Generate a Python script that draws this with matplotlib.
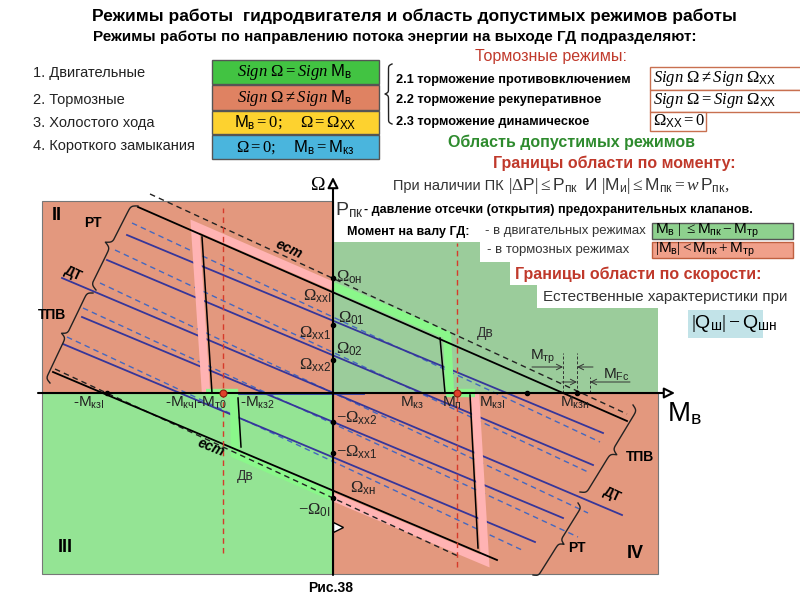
import numpy as np
import matplotlib
matplotlib.use("Agg")
import matplotlib.pyplot as plt
from matplotlib.patches import Rectangle, Polygon

plt.rcParams['font.family'] = ['Liberation Sans', 'DejaVu Sans']
plt.rcParams['mathtext.fontset'] = 'custom'
plt.rcParams['mathtext.rm'] = 'Liberation Serif'
plt.rcParams['mathtext.it'] = 'Liberation Serif:italic'
plt.rcParams['mathtext.sf'] = 'Liberation Sans'
plt.rcParams['mathtext.bf'] = 'Liberation Sans:bold'

# ---- chart data, torque M (x) and speed Omega (y), origin at the axes crossing
m_lim = (-291, 325)
w_lim = (-181, 192)
q1_m = [0, 147, 147, 177, 177, 204, 204, 325, 325, 0]
q1_w = [151, 151, 131, 131, 108, 108, 85, 85, 0, 0]

# natural ("ест") characteristics: (m0, w0, m1, w1)
nat_dashed = [(-183, 199, 294, -21), (-278, 24, 127, -164)]
nat_solid = [(-195, 186, 294, -28), (-280, 21, 164, -167)]
# regulated characteristics (РТ, ДТ, ТПВ families)
blue_dashed = [(-201, 170, 267, -49), (-218, 143, 255, -79), (-233, 110, 255, -120),
               (-250, 85, 245, -144), (-266, 56, 189, -157)]
blue_solid = [(-206, 158, 270, -40), (-226, 133, 260, -72), (-271, 115, 289, -122),
              (-251, 76, 230, -125), (-270, 49, 202, -149)]
# torque limits (vertical parts of the boundary)
vert_limits = [(-131, 156, -121, 0), (-95, -5, -92, -54), (107, 55, 112, 0), (137, -2, 145, -155)]

# boundary of the allowed region
brake_1_m, brake_1_w = [0, -138, -127], [107, 167, 0]
motor_3_m, motor_3_w = [-127, -99, -98, 0], [0, 0, -61, -104]
brake_4_m, brake_4_w = [0, 152, 142], [-104, -168, 0]
motor_1_m, motor_1_w = [142, 117, 114, 0], [0, 0, 58, 107]

red_m = [-110, 124]
red_top = [185, 150]
red_bot = [-160, -174]
m_dots = [-226, 194, 244]
w_dots = [115, 68, 33, -29, -60, -105]
fric_m = [230, 244, 257]
fric_top = [40, 40, 16]

SALMON = '#E3987E'
GREEN1 = '#9BCC9B'
GREEN3 = '#94E494'
PINK = '#FFB3B3'
LGREEN = '#8AF78A'
NAVY = '#36369A'
BLUE = '#4468C0'
RED = '#C0392B'

fig = plt.figure(figsize=(8, 6), dpi=100)
cx = fig.add_axes([30 / 800, 10 / 600, 660 / 800, 420 / 600], zorder=1)
cx.set_xlim(-303, 357)
cx.set_ylim(-197, 223)
cx.axis('off')

# quadrants
cx.add_patch(Rectangle((m_lim[0], 0), -m_lim[0], w_lim[1], fc=SALMON, ec='#777777', lw=0.8, zorder=0))
cx.add_patch(Rectangle((0, w_lim[0]), m_lim[1], -w_lim[0], fc=SALMON, ec='#777777', lw=0.8, zorder=0))
cx.add_patch(Rectangle((m_lim[0], w_lim[0]), -m_lim[0], -w_lim[0], fc=GREEN3, ec='#777777', lw=0.8, zorder=0))
cx.add_patch(Polygon(np.column_stack([q1_m, q1_w]), fc=GREEN1, ec='none', zorder=0))

for m0, w0, m1, w1 in blue_dashed:
    cx.plot([m0, m1], [w0, w1], color=BLUE, lw=1.0, ls=(0, (4, 3)), zorder=2)
for m0, w0, m1, w1 in blue_solid:
    cx.plot([m0, m1], [w0, w1], color=NAVY, lw=1.3, zorder=2)
cx.plot([-126, 30], [0, 0], color='#2F3FA8', lw=2.0, zorder=2)

# allowed region boundary
for mm, ww, c in [(brake_1_m, brake_1_w, PINK), (motor_3_m, motor_3_w, LGREEN),
                  (brake_4_m, brake_4_w, PINK), (motor_1_m, motor_1_w, LGREEN)]:
    cx.plot(mm, ww, color=c, lw=6, solid_joinstyle='miter', solid_capstyle='butt', zorder=3)

for m0, w0, m1, w1 in nat_dashed:
    cx.plot([m0, m1], [w0, w1], color='#222222', lw=1.0, ls=(0, (4, 3)), zorder=4)
for m0, w0, m1, w1 in nat_solid:
    cx.plot([m0, m1], [w0, w1], color='black', lw=1.3, zorder=4)
for m0, w0, m1, w1 in vert_limits:
    cx.plot([m0, m1], [w0, w1], color='black', lw=1.1, zorder=4)

for m, t, b in zip(red_m, red_top, red_bot):
    cx.plot([m, m], [b, t], color='#D63A2A', lw=1.0, ls=(0, (4, 3)), zorder=4)
    cx.plot(m, 0, 'o', ms=5, mfc='#E0402A', mec='#8A2010', mew=0.8, zorder=7)

for m, t in zip(fric_m, fric_top):
    cx.plot([m, m], [0, t], color='#333333', lw=0.7, ls=(0, (3, 2)), zorder=4)
arw = dict(arrowstyle='->', color='#333333', lw=0.7, shrinkA=0, shrinkB=0)
cx.annotate('', xy=(fric_m[0], 26), xytext=(fric_m[0] - 31, 26), arrowprops=arw, zorder=5)
cx.annotate('', xy=(fric_m[1], 26), xytext=(fric_m[1] + 16, 26), arrowprops=arw, zorder=5)
cx.annotate('', xy=(fric_m[1], 11), xytext=(fric_m[0] - 1, 11), arrowprops=arw, zorder=5)
cx.annotate('', xy=(fric_m[2], 11), xytext=(fric_m[2] + 40, 11), arrowprops=arw, zorder=5)

# axes
head = dict(arrowstyle='-|>', lw=1.5, ec='black', fc='white', mutation_scale=16, shrinkA=0, shrinkB=0)
cx.annotate('', xy=(0, 216), xytext=(0, -182), arrowprops=head, zorder=6)
cx.annotate('', xy=(342, 0), xytext=(-295, 0), arrowprops=head, zorder=6)
cx.plot(5, -134, marker='>', ms=7, mfc='white', mec='black', zorder=6)
cx.plot(m_dots, np.zeros(len(m_dots)), 'o', ms=3, color='black', zorder=7)
cx.plot(np.zeros(len(w_dots)), w_dots, 'o', ms=3, color='black', zorder=7)

# ---- overlay in pixel coordinates for text and braces
ax = fig.add_axes([0, 0, 1, 1], zorder=2)
ax.set_xlim(0, 800)
ax.set_ylim(600, 0)
ax.axis('off')
ax.patch.set_alpha(0)


def brace(p0, p1, depth, lw=1.0):
    p0 = np.asarray(p0, float)
    p1 = np.asarray(p1, float)
    d = p1 - p0
    L = np.hypot(d[0], d[1])
    u = d / L
    nrm = np.array([u[1], -u[0]])
    s = np.linspace(0, L / 2, 80)
    beta = 9.0 / abs(depth)
    h = 1 / (1 + np.exp(-beta * s)) + 1 / (1 + np.exp(-beta * (s - L / 2))) - 0.5
    along = np.concatenate([s, L - s[::-1]])
    off = np.concatenate([h, h[::-1]]) * depth
    pts = p0 + np.outer(along, u) + np.outer(off, nrm)
    ax.plot(pts[:, 0], pts[:, 1], color='#222222', lw=lw)


def box(x0, y0, x1, y1, fc, ec='#555555', lw=1.0):
    ax.add_patch(Rectangle((x0, y0), x1 - x0, y1 - y0, fc=fc, ec=ec, lw=lw))


# header
ax.text(414, 16, 'Режимы работы  гидродвигателя и область допустимых режимов работы',
        ha='center', va='center', fontsize=12.5, fontweight='bold')
ax.text(395, 37, 'Режимы работы по направлению потока энергии на выходе ГД подразделяют:',
        ha='center', va='center', fontsize=11, fontweight='bold')
ax.text(551, 56, 'Тормозные режимы:', ha='center', va='center', fontsize=11.5, color=RED)

for y, s in zip([73, 100, 123, 146],
                ['1. Двигательные', '2. Тормозные', '3. Холостого хода', '4. Короткого замыкания']):
    ax.text(33, y, s, va='center', fontsize=10.5, color='#222222')

box(212, 60, 379, 84, '#42C342')
box(212, 85, 379, 110, '#DF8262')
box(212, 111, 379, 134, '#FDD22F')
box(212, 135, 379, 159, '#4AB5DD')
ax.text(295, 72, r'$\mathit{Sign}\ \Omega = \mathit{Sign}\ \mathsf{M}_{\mathsf{в}}$', ha='center', va='center', fontsize=12)
ax.text(295, 98, r'$\mathit{Sign}\ \Omega \neq \mathit{Sign}\ \mathsf{M}_{\mathsf{в}}$', ha='center', va='center', fontsize=12)
ax.text(295, 122, r'$\mathsf{M}_{\mathsf{в}} = 0;\quad\ \Omega = \Omega_{\mathsf{XX}}$', ha='center', va='center', fontsize=12)
ax.text(295, 147, r'$\Omega = 0;\quad\ \mathsf{M}_{\mathsf{в}} = \mathsf{M}_{\mathsf{кз}}$', ha='center', va='center', fontsize=12)

brace((392, 64), (392, 124), -7)
for y, s in zip([80, 100, 122], ['2.1 торможение противовключением', '2.2 торможение рекуперативное',
                                  '2.3 торможение динамическое']):
    ax.text(396, y, s, va='center', fontsize=9.2, fontweight='bold')
box(650, 67, 802, 90, 'white', ec='#C87050')
box(650, 90, 802, 112, 'white', ec='#C87050')
box(650, 112, 706, 131, 'white', ec='#C87050')
ax.text(653, 79, r'$\mathit{Sign}\ \Omega \neq \mathit{Sign}\ \Omega_{\mathsf{XX}}$', va='center', fontsize=12)
ax.text(653, 101, r'$\mathit{Sign}\ \Omega = \mathit{Sign}\ \Omega_{\mathsf{XX}}$', va='center', fontsize=12)
ax.text(653, 121, r'$\Omega_{\mathsf{XX}} = 0$', va='center', fontsize=12)

ax.text(572, 142, 'Область допустимых режимов', ha='center', va='center',
        fontsize=11.5, fontweight='bold', color='#2E8B2E')
ax.text(614, 163, 'Границы области по моменту:', ha='center', va='center',
        fontsize=11.5, fontweight='bold', color=RED)

ax.text(393, 186, 'При наличии ПК', va='center', fontsize=10.5, color='#333333')
ax.text(508, 186, r'$|\Delta \mathsf{P}| \leq \mathsf{P}_{\mathsf{пк}}\ \ \mathsf{И}\ |\mathsf{M}_{\mathsf{и}}| \leq '
        r'\mathsf{M}_{\mathsf{пк}} = w\,\mathsf{P}_{\mathsf{пк}},$', va='center', fontsize=12.5, color='#333333')
ax.text(335, 210, r'$\mathsf{P}_{\mathsf{пк}}$', va='center', fontsize=14, color='#333333')
ax.text(364, 210, '- давление отсечки (открытия) предохранительных клапанов.', va='center',
        fontsize=9, fontweight='bold')
ax.text(347, 232, 'Момент на валу ГД:', va='center', fontsize=9, fontweight='bold')
ax.text(485, 231, '- в двигательных режимах', va='center', fontsize=9.5, color='#333333')
ax.text(487, 250, '- в тормозных режимах', va='center', fontsize=9.5, color='#333333')
box(652, 223, 793, 239, '#8ED18E')
box(652, 242, 793, 258, '#F0A08A', ec='#C06040')
ax.text(655, 231, r'$\mathsf{M}_{\mathsf{в}}\ |\ \leq \mathsf{M}_{\mathsf{пк}} - \mathsf{M}_{\mathsf{тр}}$',
        va='center', fontsize=11)
ax.text(655, 250, r'$|\mathsf{M}_{\mathsf{в}}| < \mathsf{M}_{\mathsf{пк}} + \mathsf{M}_{\mathsf{тр}}$',
        va='center', fontsize=11)
ax.text(515, 274, 'Границы области по скорости:', va='center', fontsize=11.5, fontweight='bold', color=RED)
ax.text(543, 297, 'Естественные характеристики при', va='center', fontsize=11, color='#333333')
box(688, 310, 763, 338, '#C2E3E8', ec='none')
ax.text(691, 324, r'$|\mathsf{Q}_{\mathsf{ш}}| - \mathsf{Q}_{\mathsf{шн}}$', va='center', fontsize=14)

# chart labels
ax.text(318, 186, r'$\Omega$', ha='center', va='center', fontsize=14)
ax.text(667, 414, r'$\mathsf{M}_{\mathsf{в}}$', va='center', fontsize=20)
for x, y, s in [(57, 216, 'II'), (65, 548, 'III'), (635, 553, 'IV')]:
    ax.text(x, y, s, ha='center', va='center', fontsize=13, fontweight='bold')
for x, y, s, r in [(93, 223, 'РТ', 0), (73, 274, 'ДТ', -25), (52, 315, 'ТПВ', 0),
                   (577, 548, 'РТ', 0), (612, 495, 'ДТ', -25), (640, 457, 'ТПВ', 0)]:
    ax.text(x, y, s, ha='center', va='center', fontsize=10, fontweight='bold', rotation=r)
brace((138, 206), (96, 290), -13)
brace((93, 293), (50, 383), -11)
brace((633, 405), (580, 492), 12)
brace((578, 503), (533, 575), 10)
ax.text(289, 249, 'ест', ha='center', va='center', fontsize=10, fontweight='bold', style='italic', rotation=-25)
ax.text(211, 448, 'ест', ha='center', va='center', fontsize=10, fontweight='bold', style='italic', rotation=-22)
ax.text(485, 333, 'Дв', ha='center', va='center', fontsize=10, color='#333333')
ax.text(245, 476, 'Дв', ha='center', va='center', fontsize=10, color='#333333')

omega_left = [(336, 277, r'$\Omega_{\mathsf{он}}$'), (338, 318, r'$\Omega_{\mathsf{01}}$'),
              (336, 349, r'$\Omega_{\mathsf{02}}$'), (336, 418, r'$-\Omega_{\mathsf{xx2}}$'),
              (336, 452, r'$-\Omega_{\mathsf{xx1}}$'), (350, 488, r'$\Omega_{\mathsf{xн}}$')]
omega_right = [(331, 296, r'$\Omega_{\mathsf{xxI}}$'), (331, 333, r'$\Omega_{\mathsf{xx1}}$'),
               (331, 365, r'$\Omega_{\mathsf{xx2}}$'), (331, 510, r'$-\Omega_{\mathsf{0I}}$')]
for x, y, s in omega_left:
    ax.text(x, y, s, va='center', fontsize=12, color='#222222')
for x, y, s in omega_right:
    ax.text(x, y, s, ha='right', va='center', fontsize=12, color='#222222')

for x, s in [(73, r'-$\mathsf{M}_{\mathsf{кзI}}$'), (165, r'-$\mathsf{M}_{\mathsf{кчI}}$-$\mathsf{M}_{\mathsf{т0}}$'),
             (240, r'-$\mathsf{M}_{\mathsf{кз2}}$'), (400, r'$\mathsf{M}_{\mathsf{кз}}$'),
             (442, r'$\mathsf{M}_{\mathsf{п}}$'), (479, r'$\mathsf{M}_{\mathsf{кзI}}$'),
             (560, r'$\mathsf{M}_{\mathsf{кзн}}$')]:
    ax.text(x, 403, s, va='center', fontsize=11, color='#222222')
ax.text(530, 357, r'$\mathsf{M}_{\mathsf{тр}}$', va='center', fontsize=11, color='#222222')
ax.text(603, 375, r'$\mathsf{M}_{\mathsf{Fc}}$', va='center', fontsize=11, color='#222222')
ax.text(331, 588, 'Рис.38', ha='center', va='center', fontsize=10, fontweight='bold')

fig.savefig('out.png', dpi=100)
